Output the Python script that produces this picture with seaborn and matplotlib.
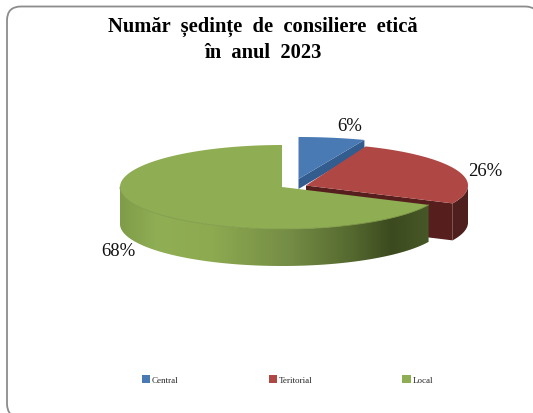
"""Three dimensional looking pie of ethics counselling sessions, 2023."""

import numpy as np
import matplotlib
matplotlib.use('Agg')
import matplotlib.pyplot as plt
import seaborn as sns
from matplotlib.colors import LinearSegmentedColormap
from matplotlib.patches import FancyBboxPatch, Patch, Polygon

categories = ['Central', 'Teritorial', 'Local']
shares = [6, 26, 68]
title_lines = ['Număr  ședințe  de  consiliere  etică', 'în  anul  2023']

sns.set_theme(style='white')
plt.rcParams['font.family'] = ['Liberation Serif', 'DejaVu Serif']

palette = sns.color_palette(['#4A7AB3', '#AF4845', '#8FAD52'])
DEPTH = 37
RY = 42


def arc(cx, cy, rx, start, stop, n=120):
    """Points on the ellipse, angles in percent clockwise from 12 o'clock."""
    t = np.radians(np.linspace(start, stop, n) * 3.6)
    return np.column_stack([cx + rx * np.sin(t), cy - RY * np.cos(t)])


def shift(points, dy):
    return points + np.array([0, dy])


fig, ax = plt.subplots(figsize=(5.33, 4.14), dpi=100)
fig.subplots_adjust(0, 0, 1, 1)

# rounded frame, runs off the right and bottom of the picture
ax.add_patch(FancyBboxPatch((21, 21.5), 504, 383, boxstyle='round,pad=14,rounding_size=14',
                            fc='white', ec='#8C8C8C', lw=1.3))

b_start, b_end = 0, shares[0]
r_start, r_end = shares[0], shares[0] + shares[1]
g_start, g_end = r_end, 100

# central slice: only a shallow part of its cut side stays visible
cx, cy, rx = 298.5, 180, 179
top = arc(cx, cy, rx, b_start, b_end)
ax.add_patch(Polygon([[cx, cy], top[-1], shift(top[-1], 10), [cx, cy + 10]],
                     fc='#335C8F', ec='none', zorder=2))
ax.add_patch(Polygon(np.vstack([[[cx, cy]], top]), fc=palette[0], ec='none', zorder=3))

# teritorial slice
cx, cy, rx = 306, 186.5, 162
top = arc(cx, cy, rx, r_start, r_end)
ax.add_patch(Polygon([[cx, cy], top[-1], shift(top[-1], DEPTH), [cx, cy + DEPTH]],
                     fc='#561F1E', ec='none', zorder=4))
outer = arc(cx, cy, rx, 25, r_end)
ax.add_patch(Polygon(np.vstack([outer, shift(outer, DEPTH)[::-1]]),
                     fc='#4F1F1D', ec='none', zorder=4))
ax.add_patch(Polygon(np.vstack([[[cx, cy]], top]), fc=palette[1], ec='none', zorder=5))

# local slice, its rim is shaded from left to right
cx, cy, rx = 282, 188, 162
top = arc(cx, cy, rx, g_start, g_end)
outer = arc(cx, cy, rx, g_start, 75)
rim = Polygon(np.vstack([outer, shift(outer, DEPTH)[::-1]]), fc='none', ec='none', zorder=6)
ax.add_patch(rim)
rim_cmap = LinearSegmentedColormap.from_list('rim', [
    (0.00, '#7F9C49'), (0.12, '#90AE54'), (0.30, '#8DAA50'), (0.55, '#748C45'),
    (0.75, '#55692F'), (0.88, '#3C4A1F'), (1.00, '#475827'),
])
shade = ax.imshow(np.linspace(0, 1, 256)[None, :], cmap=rim_cmap, aspect='auto',
                  extent=(cx - rx, top[0, 0], cy + RY + DEPTH, cy - RY), zorder=6)
shade.set_clip_path(rim)
ax.add_patch(Polygon(np.vstack([[[cx, cy]], top]), fc=palette[2], ec='none', zorder=7))
ax.plot(outer[:, 0], outer[:, 1], color='#7E9A49', lw=0.6, zorder=8)

# percentage labels
for share, x, y in zip(shares, [350, 485, 118], [127, 172, 252]):
    ax.text(x, y, f'{share}%', ha='center', va='center', fontsize=13.5,
            color='#111111', zorder=9)

for i, line in enumerate(title_lines):
    ax.text(263, 27 + 26 * i, line, ha='center', va='center', fontsize=14.8,
            fontweight='bold', color='black', zorder=9)

handles = [Patch(fc=c, ec='none') for c in palette]
ax.legend(handles, categories, loc='center', bbox_to_anchor=(0.539, 0.08), ncol=3,
          frameon=False, fontsize=6.5, handlelength=0.9, handleheight=0.9,
          handletextpad=0.2, columnspacing=10)

ax.set_xlim(0, 533)
ax.set_ylim(414, 0)
ax.axis('off')
fig.savefig('out.png', dpi=100)
